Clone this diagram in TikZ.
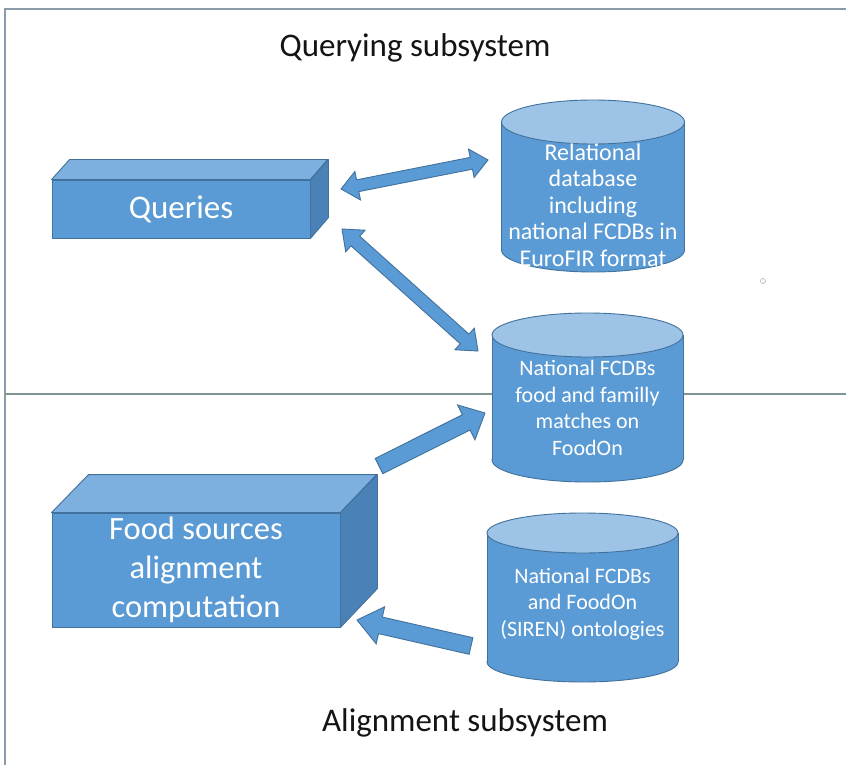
\documentclass[tikz,border=0pt]{standalone}
\usepackage{fontspec}
\setmainfont{Carlito}
\usetikzlibrary{calc}
\definecolor{boxblue}{HTML}{5B9BD5}
\definecolor{boxline}{HTML}{41719C}
\definecolor{boxtop}{HTML}{7DB0DF}
\definecolor{boxside}{HTML}{4A82B8}
\definecolor{cyltop}{HTML}{9DC3E6}
\definecolor{framecol}{HTML}{8A9BAC}
\definecolor{sepcol}{HTML}{7F9494}
\tikzset{
  face/.style={fill=boxblue, draw=boxline, line width=0.9pt, line join=round},
  topface/.style={fill=boxtop, draw=boxline, line width=0.9pt, line join=round},
  sideface/.style={fill=boxside, draw=boxline, line width=0.9pt, line join=round},
  blockarrow/.style={fill=boxblue, draw=boxline, line width=0.9pt, line join=miter},
  whitetext/.style={text=white, align=center, inner sep=0pt},
  titletext/.style={font=\fontsize{33}{40}\selectfont, text=black!92, inner sep=0pt},
}
% cylinder: cx, rx, ytop, ybot, ry
\newcommand{\mycyl}[5]{%
  \draw[boxline, fill=boxblue, line width=0.9pt] (#1,#4) ellipse [x radius=#2pt, y radius=#5pt];
  \fill[boxblue] ({#1-#2},#3) rectangle ({#1+#2},#4);
  \draw[boxline, line width=0.9pt] ({#1-#2},#3) -- ({#1-#2},#4) ({#1+#2},#3) -- ({#1+#2},#4);
  \draw[boxline, fill=cyltop, line width=0.9pt] (#1,#3) ellipse [x radius=#2pt, y radius=#5pt];
}
% single block arrow: from, to, half shaft, half head, head length
\newcommand{\sarrow}[5]{%
  \path ($(#2)!#5!(#1)$) coordinate (sa-n);
  \draw[blockarrow] ($(#1)!#3!90:(#2)$) -- ($(sa-n)!#3!90:(#2)$) -- ($(sa-n)!#4!90:(#2)$) -- (#2)
    -- ($(sa-n)!#4!-90:(#2)$) -- ($(sa-n)!#3!-90:(#2)$) -- ($(#1)!#3!-90:(#2)$) -- cycle;
}
% double block arrow
\newcommand{\darrow}[5]{%
  \path ($(#1)!#5!(#2)$) coordinate (da-a) ($(#2)!#5!(#1)$) coordinate (da-b);
  \draw[blockarrow] (#1) -- ($(da-a)!#4!90:(#2)$) -- ($(da-a)!#3!90:(#2)$) -- ($(da-b)!#3!-90:(#1)$)
    -- ($(da-b)!#4!-90:(#1)$) -- (#2) -- ($(da-b)!#4!90:(#1)$) -- ($(da-b)!#3!90:(#1)$)
    -- ($(da-a)!#3!-90:(#2)$) -- ($(da-a)!#4!-90:(#2)$) -- cycle;
}
\begin{document}
\begin{tikzpicture}[x=1pt,y=-1pt]
\useasboundingbox (0,0) rectangle (846,765);
\fill[white] (0,0) rectangle (846,765);
% frame and separator
\draw[framecol, line width=1.5pt] (846,9) -- (5,9) -- (5,765);
\draw[sepcol, line width=1.6pt] (5,394) -- (846,394);
\draw[gray!55, line width=0.7pt] (763,281) circle (2.5pt);
% titles
\node[titletext] (qtitle) at (415,48) {Querying subsystem};
\node[titletext] (atitle) at (465,723) {Alignment subsystem};
% Queries box
\node[face, whitetext, minimum width=258pt, minimum height=58pt, font=\fontsize{33}{40}\selectfont] (queries) at (181,209) {Queries};
\draw[topface] (queries.north west) -- ++(18,-20) -- ++(258,0) -- (queries.north east) -- cycle;
\draw[sideface] (queries.north east) -- ++(18,-20) -- ++(0,58) -- (queries.south east) -- cycle;
% Food sources box
\node[face, whitetext, minimum width=288pt, minimum height=114pt, font=\fontsize{32.5}{39}\selectfont] (food) at (196,570) {Food sources\\alignment\\computation};
\draw[topface] (food.north west) -- ++(37,-38) -- ++(288,0) -- (food.north east) -- cycle;
\draw[sideface] (food.north east) -- ++(37,-38) -- ++(0,114) -- (food.south east) -- cycle;
% cylinders
\mycyl{593}{91.5}{122}{250}{22}
\node[whitetext, font=\fontsize{24}{26.5}\selectfont] (db) at (593,205) {Relational\\database\\including\\national FCDBs in\\EuroFIR format};
\mycyl{587.5}{95.5}{335}{460}{22}
\node[whitetext, font=\fontsize{22}{26.5}\selectfont] (matches) at (587.5,408) {National FCDBs\\food and familly\\matches on\\FoodOn};
\mycyl{582.5}{95.5}{533}{662}{20}
\node[whitetext, font=\fontsize{22}{26.5}\selectfont] (onto) at (582.5,604) {National FCDBs\\and FoodOn\\(SIREN) ontologies};
% arrow end points
\coordinate (q-db) at (341,189);
\coordinate (db-q) at (488,160);
\coordinate (q-m) at (342,229);
\coordinate (m-q) at (478,351);
\coordinate (f-m) at (379,466);
\coordinate (m-f) at (485,413);
\coordinate (o-f) at (471,646);
\coordinate (f-o) at (357,620);
% arrows
\darrow{q-db}{db-q}{6pt}{14.5pt}{17pt}
\darrow{q-m}{m-q}{6.5pt}{14.5pt}{18pt}
\sarrow{f-m}{m-f}{8.5pt}{19.5pt}{21pt}
\sarrow{o-f}{f-o}{8.5pt}{19pt}{24pt}
\end{tikzpicture}
\end{document}
